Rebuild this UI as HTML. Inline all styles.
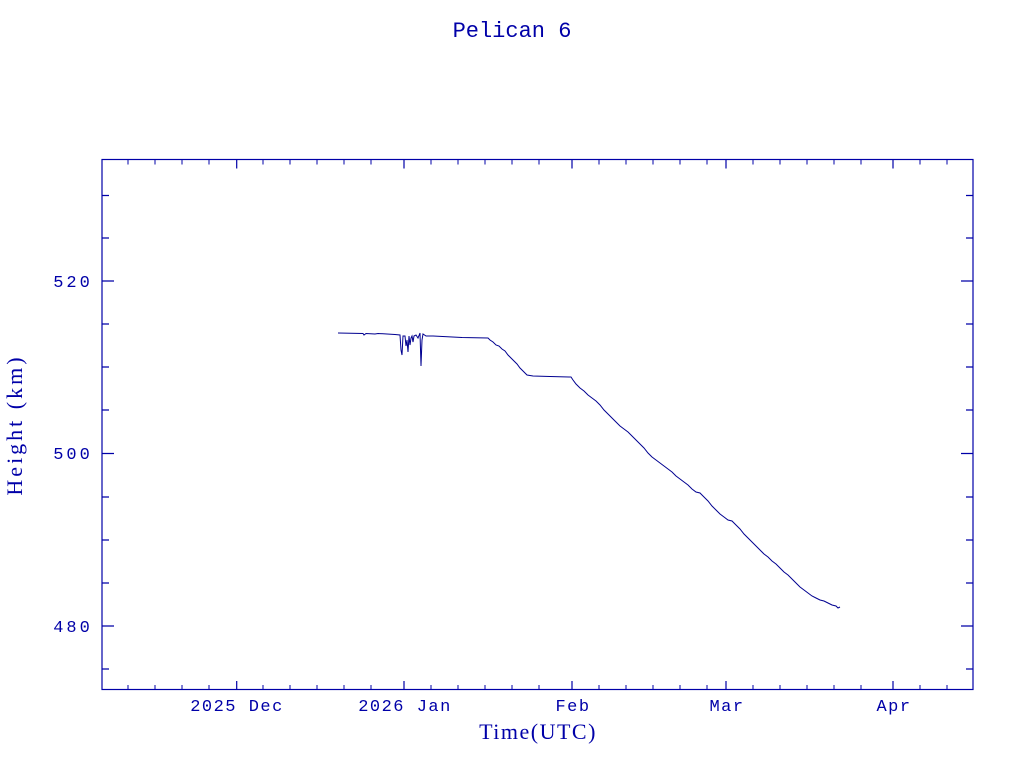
<!DOCTYPE html>
<html><head><meta charset="utf-8"><style>html,body{margin:0;padding:0;background:#fff}svg{display:block}</style></head>
<body>
<svg width="1024" height="768" xmlns="http://www.w3.org/2000/svg">
<g fill="#0000a8" font-family="Liberation Serif, serif">
<text x="512" y="37" font-size="22" text-anchor="middle" font-family="Liberation Mono, monospace">Pelican 6</text>
<text x="538" y="739" font-size="22" letter-spacing="1.5" text-anchor="middle">Time(UTC)</text>
<text transform="translate(22,425) rotate(-90)" font-size="22" letter-spacing="3" text-anchor="middle">Height (km)</text>
<g font-family="Liberation Mono, monospace" font-size="17" letter-spacing="1.5" text-anchor="middle">
<text x="237" y="711">2025 Dec</text>
<text x="405" y="711">2026 Jan</text>
<text x="573" y="711">Feb</text>
<text x="727" y="711">Mar</text>
<text x="894" y="711">Apr</text>
</g>
<g font-family="Liberation Mono, monospace" font-size="17" letter-spacing="3" text-anchor="middle">
<text x="73" y="287">520</text>
<text x="73" y="459">500</text>
<text x="73" y="632">480</text>
</g>
</g>
<g stroke="#0000a8" stroke-width="1.2" fill="none">
<rect x="102" y="159.5" width="871" height="530"/>
<path d="
M102 281h12M973 281h-12M102 453.5h12M973 453.5h-12M102 626h12M973 626h-12
M102 195.5h7M973 195.5h-7M102 238h7M973 238h-7M102 324h7M973 324h-7M102 367h7M973 367h-7M102 410h7M973 410h-7
M102 497h7M973 497h-7M102 540h7M973 540h-7M102 583h7M973 583h-7M102 669h7M973 669h-7
M236.7 690v-9M236.7 159.5v9M404 690v-9M404 159.5v9M572 690v-9M572 159.5v9M726 690v-9M726 159.5v9M893 690v-9M893 159.5v9
"/>
</g>
<g stroke="#0000a8" stroke-width="1" fill="none">
<path d="
M128 690v-5M155 690v-5M182 690v-5M209 690v-5M263 690v-5M290 690v-5M317 690v-5M344 690v-5M371 690v-5M431 690v-5M458 690v-5M485 690v-5M512 690v-5M539 690v-5M599 690v-5M626 690v-5M653 690v-5M680 690v-5M707 690v-5M753 690v-5M780 690v-5M807 690v-5M834 690v-5M861 690v-5M920 690v-5M947 690v-5
M128 159.5v5M155 159.5v5M182 159.5v5M209 159.5v5M263 159.5v5M290 159.5v5M317 159.5v5M344 159.5v5M371 159.5v5M431 159.5v5M458 159.5v5M485 159.5v5M512 159.5v5M539 159.5v5M599 159.5v5M626 159.5v5M653 159.5v5M680 159.5v5M707 159.5v5M753 159.5v5M780 159.5v5M807 159.5v5M834 159.5v5M861 159.5v5M920 159.5v5M947 159.5v5"/>
<path stroke="#000090" d="M338 333L363 333.5L364 335L366 333.5L375 334L378 333.5L395 334.5L400 335L401 350L402 355L403 336L405 336L406 346L407 340L408 352L409 336L410 345L411 338L412 336L413 342L414 336L416 335L418 338L420 333L421 366L422 340L423 334L426 336L433 336L462 337.5L488 338L490 340L493 342L496 345L499 346L502 349L505 351L508 355L511 358L514 361L517 364L520 368L523 371L527 375L533 376L550 376.5L569 377L571 377L573 380L576 384L580 388L584 391L588 395L592 398L596 401L600 405L604 410L608 414L612 418L616 422L620 426L624 429L628 432L632 436L636 440L640 444L644 448L648 453L652 457L656 460L660 463L664 466L668 469L672 472L676 476L680 479L684 482L688 485L692 489L696 492L700 493L704 497L708 501L712 506L716 510L720 514L724 517L728 520L732 521L736 525L740 529L744 534L748 538L752 542L756 546L760 550L764 554L768 557L772 561L776 564L780 568L784 572L788 575L792 579L796 583L800 587L804 590L808 593L812 596L816 598L820 600L824 601L828 603L832 605L836 606L838 608L840 607"/>
</g>
</svg>
</body></html>
